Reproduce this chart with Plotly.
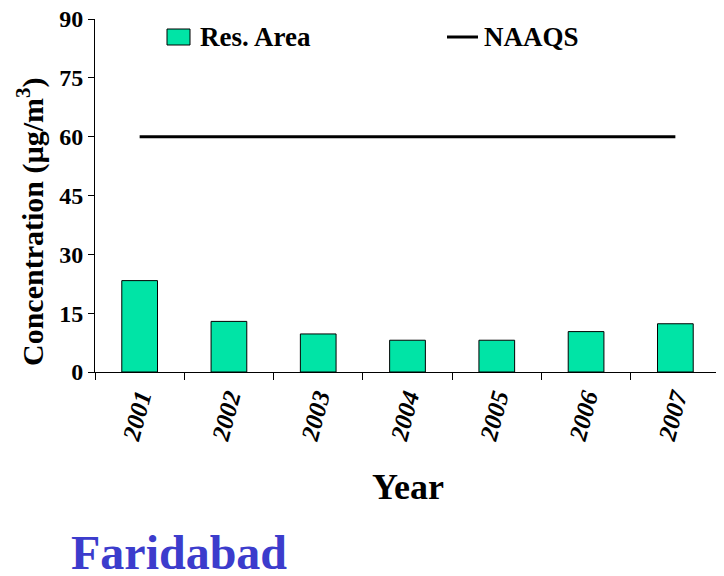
import plotly.graph_objects as go

years = ["2001", "2002", "2003", "2004", "2005", "2006", "2007"]
res_area = [23.3, 12.9, 9.7, 8.1, 8.1, 10.3, 12.3]
naaqs = [60, 60, 60, 60, 60, 60, 60]
y_ticks = [0, 15, 30, 45, 60, 75, 90]

FONT = "Liberation Serif, Times New Roman, serif"
BAR_COLOR = "#00E4A6"

# plot area in reference (screen) pixels; page body adds an 8px offset
PL, PR, PT, PB = 95, 720, 19, 372
OFF = 8


def px(X):
    return (X - PL) / (PR - PL)


def py(Y):
    return (PB - Y) / (PB - PT)


fig = go.Figure()
fig.add_trace(go.Bar(
    x=years, y=res_area, name="Res. Area", showlegend=False,
    marker=dict(color=BAR_COLOR, line=dict(color="black", width=1)),
    width=0.4,
))
fig.add_trace(go.Scatter(
    x=years, y=naaqs, name="NAAQS", mode="lines", showlegend=False,
    line=dict(color="black", width=3),
))

W, H = 724 - OFF, 576 - OFF
fig.update_layout(
    width=W, height=H,
    margin=dict(l=PL - OFF, r=W - (PR - OFF), t=PT - OFF, b=H - (PB - OFF), autoexpand=False),
    plot_bgcolor="white", paper_bgcolor="white",
    font=dict(family=FONT, color="black"),
    xaxis=dict(
        type="category", automargin=False, ticklabeloverflow="allow",
        showline=True, linecolor="black", linewidth=1,
        ticks="outside", ticklen=7, tickcolor="black", tickson="boundaries",
        tickangle=-75,
        tickfont=dict(family=FONT, size=25, weight="bold", style="italic", color="black"),
        showgrid=False,
    ),
    yaxis=dict(
        range=[0, 90], tickvals=y_ticks, automargin=False, ticklabeloverflow="allow",
        showline=True, linecolor="black", linewidth=1,
        ticks="outside", ticklen=6, tickcolor="black",
        tickfont=dict(family=FONT, size=24, weight="bold", color="black"),
        showgrid=False, zeroline=False,
    ),
    shapes=[
        dict(type="rect", xref="paper", yref="paper",
             x0=px(167), x1=px(190), y0=py(45), y1=py(29),
             fillcolor=BAR_COLOR, line=dict(color="black", width=1)),
        dict(type="line", xref="paper", yref="paper",
             x0=px(447), x1=px(478), y0=py(37), y1=py(37),
             line=dict(color="black", width=3)),
    ],
    annotations=[
        dict(text="Res. Area", xref="paper", yref="paper", x=px(198), y=py(37),
             xanchor="left", yanchor="middle", showarrow=False,
             font=dict(family=FONT, size=27, weight="bold", color="black")),
        dict(text="NAAQS", xref="paper", yref="paper", x=px(482), y=py(37),
             xanchor="left", yanchor="middle", showarrow=False,
             font=dict(family=FONT, size=27, weight="bold", color="black")),
        dict(text="Concentration (µg/m<sup>3</sup>)", xref="paper", yref="paper",
             x=px(30), y=py(222), xanchor="center", yanchor="middle", textangle=-90,
             showarrow=False,
             font=dict(family=FONT, size=30, weight="bold", color="black")),
        dict(text="Year", xref="paper", yref="paper", x=px(408), y=py(487),
             xanchor="center", yanchor="middle", showarrow=False,
             font=dict(family=FONT, size=36, weight="bold", color="black")),
        dict(text="Faridabad", xref="paper", yref="paper", x=px(69), y=py(553),
             xanchor="left", yanchor="middle", showarrow=False,
             font=dict(family=FONT, size=48, weight="bold", color="#3C3CCC")),
    ],
)

fig.write_html("out.html")
